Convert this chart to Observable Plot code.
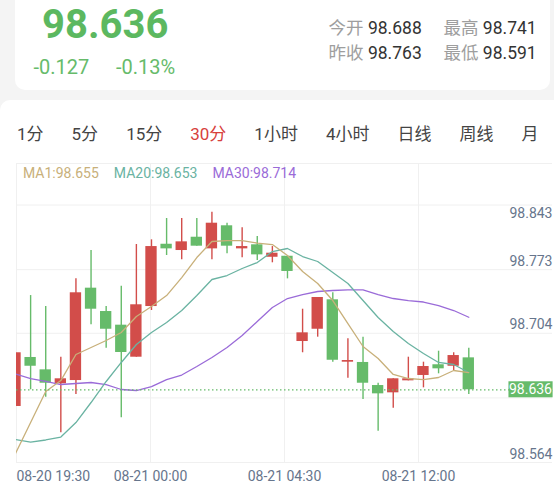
<!DOCTYPE html>
<html><head><meta charset="utf-8">
<script src="https://cdn.jsdelivr.net/npm/d3@7"></script>
<script src="https://cdn.jsdelivr.net/npm/@observablehq/plot@0.6"></script>
<style>
html,body{margin:0;padding:0;}
body{width:554px;height:484px;overflow:hidden;background:#f4f4f4;position:relative;font-family:Roboto,"Noto Sans CJK SC",sans-serif;}
.abs{position:absolute;line-height:1;white-space:nowrap;}
#card1{position:absolute;left:15px;top:-20px;width:535px;height:110px;background:#fff;border-radius:10px;}
#card2{position:absolute;left:0;top:100px;width:580px;height:420px;background:#fff;border-radius:10px;}
#tabs{position:absolute;left:17px;top:125.5px;display:flex;gap:28px;font-size:17px;line-height:1;color:#444;white-space:nowrap;}
#legend{position:absolute;left:23px;top:166px;display:flex;gap:15px;font-size:14px;line-height:1;white-space:nowrap;}
#chart{position:absolute;left:0;top:163px;}
.lbl{color:#9e9e9e;}
.val{color:#333;}
</style></head>
<body>
<div id="card1"></div>
<div id="card2"></div>
<div class="abs" id="bigPrice" style="left:42px;top:5px;font-size:40px;font-weight:700;color:#5cb860;"></div>
<div class="abs" id="chg" style="left:33.5px;top:57px;font-size:20px;color:#66bb6a;"></div>
<div class="abs" id="chgPct" style="left:116px;top:57px;font-size:20px;color:#66bb6a;"></div>
<div id="quote"></div>
<div id="tabs"></div>
<div id="chart"></div>
<div id="legend"></div>
<script>
// ---- data ----
const lastPriceText = "98.636";
const changeText = "-0.127";
const changePctText = "-0.13%";
const quoteLabels = ["今开", "最高", "昨收", "最低"];
const quoteValues = ["98.688", "98.741", "98.763", "98.591"];
const tabLabels = ["1分", "5分", "15分", "30分", "1小时", "4小时", "日线", "周线", "月"];
const activeTab = "30分";
const maNames = ["MA1", "MA20", "MA30"];
const maLast = ["98.655", "98.653", "98.714"];
const xTickLabels = ["08-20 19:30", "08-21 00:00", "08-21 04:30", "08-21 12:00"];
const yTicks = [98.843, 98.773, 98.704, 98.634, 98.564];

const open  = [98.6247,98.6778,98.6644,98.6493,98.6528,98.7529,98.7276,98.7128,98.6781,98.7330,98.8005,98.7937,98.8081,98.7955,98.8205,98.7955,98.7999,98.7864,98.7875,98.6951,98.7084,98.7403,98.6727,98.6724,98.6474,98.6395,98.6525,98.6583,98.6699,98.6683,98.6774];
const high  = [98.6829,98.7449,98.7330,98.6781,98.7630,98.7937,98.7330,98.7550,98.8002,98.8053,98.8284,98.8284,98.8284,98.8352,98.8233,98.8183,98.8089,98.7980,98.7875,98.7301,98.7428,98.7479,98.6980,98.6998,98.6499,98.6547,98.6781,98.6727,98.6846,98.6829,98.6878];
const low   = [98.6247,98.6428,98.6348,98.5962,98.6377,98.7132,98.6878,98.6124,98.6781,98.7287,98.7883,98.7836,98.7984,98.7836,98.7901,98.7858,98.7829,98.7804,98.7630,98.6829,98.6998,98.6727,98.6553,98.6323,98.5979,98.6228,98.6525,98.6449,98.6601,98.6637,98.6377];
const close = [98.6829,98.6683,98.6499,98.6547,98.7479,98.7301,98.7084,98.6832,98.7349,98.7980,98.7955,98.8031,98.7984,98.8233,98.7984,98.7980,98.7890,98.7908,98.7710,98.7045,98.7428,98.6748,98.6745,98.6499,98.6384,98.6547,98.6547,98.6680,98.6655,98.6799,98.6428];
const ma1   = [98.5737,98.6073,98.6409,98.6528,98.6810,98.6886,98.6962,98.7049,98.7222,98.7330,98.7449,98.7644,98.7861,98.8035,98.8045,98.8045,98.8018,98.8002,98.7883,98.7710,98.7580,98.7395,98.7146,98.6897,98.6767,98.6594,98.6550,98.6539,98.6561,98.6637,98.6615];
const ma20  = [98.5889,98.5860,98.5884,98.5916,98.6073,98.6290,98.6518,98.6724,98.6919,98.7049,98.7157,98.7287,98.7449,98.7623,98.7666,98.7742,98.7807,98.7926,98.7959,98.7872,98.7818,98.7699,98.7580,98.7395,98.7211,98.7059,98.6929,98.6821,98.6724,98.6702,98.6615];
const ma30  = [98.6599,98.6550,98.6518,98.6485,98.6496,98.6507,98.6485,98.6431,98.6420,98.6463,98.6539,98.6588,98.6680,98.6778,98.6886,98.7016,98.7168,98.7319,98.7417,98.7460,98.7493,98.7504,98.7511,98.7511,98.7460,98.7417,98.7395,98.7379,98.7341,98.7287,98.7214];

// ---- styles ----
const RED = "#d24d4a", GREEN = "#66bb6a";
const MA_COLORS = ["#c8b07a", "#6ab3a2", "#9a6bd8"];
const AXIS = "#66758c", GRID = "#f0f0f0";

// ---- header ----
document.getElementById("bigPrice").textContent = lastPriceText;
document.getElementById("chg").textContent = changeText;
document.getElementById("chgPct").textContent = changePctText;
const quote = document.getElementById("quote");
const qPos = [[328.6, 19.8], [443.5, 19.8], [328.6, 44.7], [443.5, 44.7]];
quoteLabels.forEach((l, k) => {
  const d = document.createElement("div");
  d.className = "abs";
  d.style.cssText = `left:${qPos[k][0]}px;top:${qPos[k][1]}px;font-size:17.5px;`;
  d.innerHTML = `<span class="lbl">${l}</span> <span class="val">${quoteValues[k]}</span>`;
  quote.appendChild(d);
});
const tabs = document.getElementById("tabs");
tabLabels.forEach(t => {
  const s = document.createElement("span");
  s.textContent = t;
  if (t === activeTab) s.style.color = "#d7413c";
  tabs.appendChild(s);
});
const legend = document.getElementById("legend");
maNames.forEach((n, k) => {
  const s = document.createElement("span");
  s.textContent = `${n}:${maLast[k]}`;
  s.style.color = MA_COLORS[k];
  legend.appendChild(s);
});

// ---- chart ----
const idx = d3.range(open.length);
const candles = idx.map(i => ({i, o: open[i], h: high[i], l: low[i], c: close[i]}));
const col = d => d.c >= d.o ? RED : GREEN;
const xDomain = [0.066, 35.54];
const yDomain = [98.564, 98.888];
const gridX = d3.range(4).map(k => xDomain[0] + k * (xDomain[1] - xDomain[0]) / 4);
const priceValue = close[close.length - 1];
const HW = 0.375;

const plot = Plot.plot({
  width: 554, height: 321,
  marginLeft: 16, marginRight: 2, marginTop: 0, marginBottom: 22,
  x: {domain: xDomain, axis: null},
  y: {domain: yDomain, axis: null},
  style: {fontFamily: "Roboto, 'Noto Sans CJK SC', sans-serif", background: "transparent"},
  marks: [
    Plot.ruleY(yTicks, {stroke: GRID, strokeWidth: 1}),
    Plot.ruleY([yDomain[1]], {stroke: GRID, strokeWidth: 1}),
    Plot.ruleX(gridX, {stroke: GRID, strokeWidth: 1}),
    Plot.ruleX(candles, {x: "i", y1: "l", y2: "h", stroke: col, strokeWidth: 1.4, clip: true}),
    Plot.rect(candles, {x1: d => d.i - HW, x2: d => d.i + HW, y1: d => Math.min(d.o, d.c), y2: d => Math.max(d.o, d.c), fill: col, clip: true}),
    Plot.line(idx, {x: i => i, y: i => ma30[i], stroke: MA_COLORS[2], strokeWidth: 1.3, clip: true}),
    Plot.line(idx, {x: i => i, y: i => ma20[i], stroke: MA_COLORS[1], strokeWidth: 1.3, clip: true}),
    Plot.line(idx, {x: i => i, y: i => ma1[i], stroke: MA_COLORS[0], strokeWidth: 1.3, clip: true}),
    Plot.ruleY([priceValue], {stroke: GREEN, strokeWidth: 1.2, strokeDasharray: "1.5,2.5"}),
    Plot.text([yTicks[0]], {y: d => d, text: d => d.toFixed(3), frameAnchor: "right", textAnchor: "end", lineAnchor: "top", dy: 3, fill: AXIS, fontSize: 14}),
    Plot.text(yTicks.slice(1), {y: d => d, text: d => d.toFixed(3), frameAnchor: "right", textAnchor: "end", lineAnchor: "bottom", dy: -4, fill: AXIS, fontSize: 14}),
    Plot.text([gridX[0]], {x: d => d, text: () => xTickLabels[0], frameAnchor: "bottom", lineAnchor: "top", textAnchor: "start", dy: 9, fill: AXIS, fontSize: 14}),
    Plot.text(gridX.slice(1), {x: d => d, text: (d, k) => xTickLabels[k + 1], frameAnchor: "bottom", lineAnchor: "top", textAnchor: "middle", dy: 9, fill: AXIS, fontSize: 14})
  ]
});
document.getElementById("chart").appendChild(plot);

// current price tag, positioned through the y scale
const py = plot.scale("y").apply(priceValue);
const svg = d3.select(plot);
const g = svg.append("g");
const t = g.append("text")
  .attr("x", 554 - 2).attr("y", py).attr("dy", "0.36em")
  .attr("text-anchor", "end").attr("fill", "#fff")
  .style("font-size", "14px").text(lastPriceText);
const bb = t.node().getBBox();
g.insert("rect", "text")
  .attr("x", bb.x - 0.5).attr("y", py - 8).attr("width", bb.width + 1).attr("height", 16)
  .attr("fill", GREEN);
</script>
</body></html>
